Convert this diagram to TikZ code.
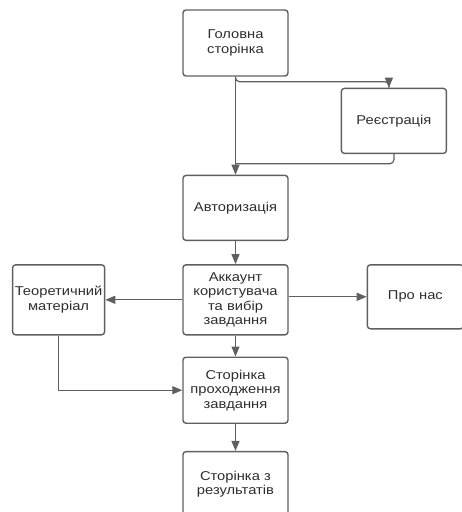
\documentclass[tikz,border=0pt]{standalone}
\usepackage{fontspec}
\setmainfont{Liberation Sans}[FakeStretch=1.15]
\usepackage{tikz}
\usetikzlibrary{positioning,arrows.meta}

\definecolor{edgegray}{RGB}{95,95,95}
\definecolor{textgray}{RGB}{45,45,45}

\tikzset{
  page/.style = {draw = edgegray, line width = 1.4pt, shape = rectangle, rounded corners = 3pt,
    minimum width = 105pt, minimum height = 66pt, text width = 100pt, align = center, inner sep = 2pt,
    text = textgray, font = \fontsize{12.8}{14.5}\selectfont},
  link/.style = {draw = edgegray, line width = 1.2pt, -{Triangle[length=10pt, width=8pt]}},
  plain/.style = {draw = edgegray, line width = 1.2pt, rounded corners = 4pt}
}

\begin{document}
\begin{tikzpicture}
\useasboundingbox (0pt,0pt) rectangle (462pt,-512pt);
\node[page] (home) at (235.5pt,-43pt) {Головна\\сторінка};
\node[page, minimum height = 65pt, below right = 11pt and 52pt of home] (reg) {Реєстрація};
\node[page, minimum height = 65pt, below = 98pt of home] (auth) {Авторизація};
\node[page, minimum height = 70pt, below = 23pt of auth] (acc) {Аккаунт\\користувача\\та вибір\\завдання};
\node[page, minimum width = 92pt, minimum height = 70pt, text width = 88pt, left = 77pt of acc] (theory) {Теоретичний\\матеріал};
\node[page, minimum width = 96pt, minimum height = 64pt, text width = 90pt, right = 78pt of acc, yshift = 3pt] (about) {Про нас};
\node[page, below = 21pt of acc] (task) {Сторінка\\проходження\\завдання};
\node[page, minimum height = 65pt, below = 27pt of task] (result) {Сторінка з\\результатів};

% main line and the registration loop
\draw[link] (home) -- (auth);
\draw[plain] (home.south) -- ++(0,-5pt) -| ([xshift=-5pt]reg.north);
\draw[link] ([xshift=-5pt,yshift=2pt]reg.north) -- ([xshift=-5pt]reg.north);
\draw[plain] (reg.south) |- ([yshift=11pt]auth.north);
\draw[link] (auth) -- (acc);
\draw[link] (acc) -- (theory);
\draw[link] (acc.east |- about.west) -- (about.west);
\draw[link] (acc) -- (task);
\draw[link] (theory.south) |- (task.west);
\draw[link] (task) -- (result);
\end{tikzpicture}
\end{document}
